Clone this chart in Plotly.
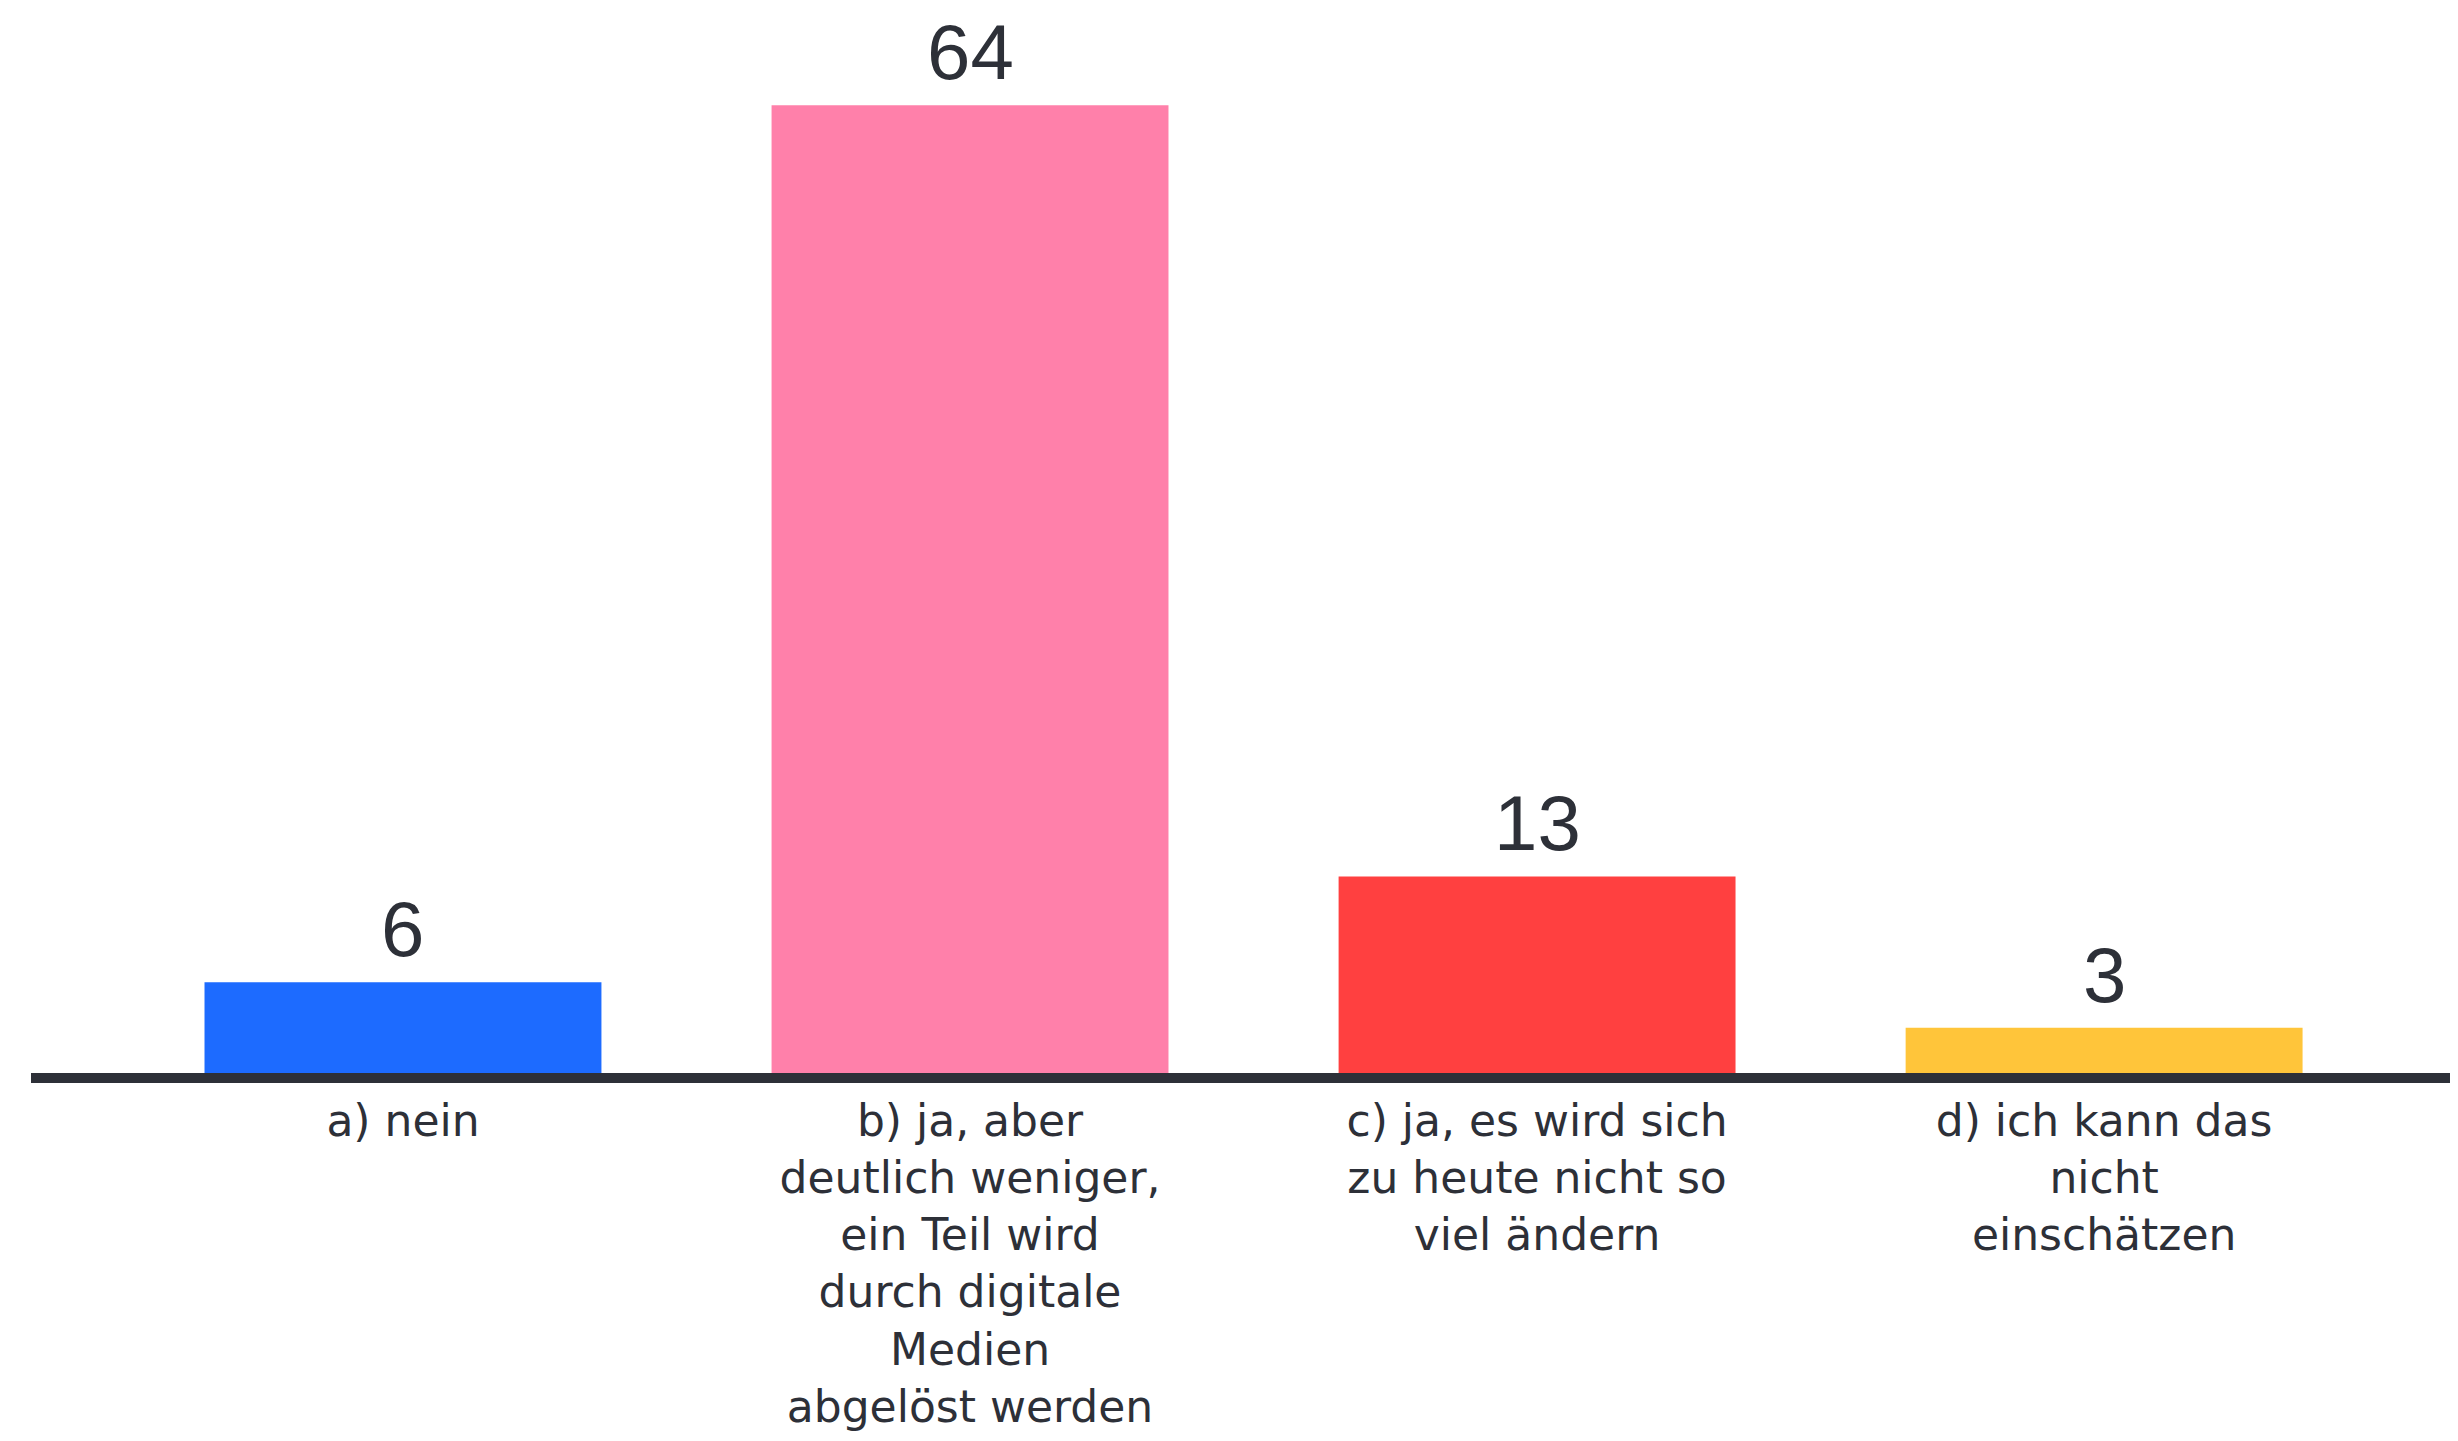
import plotly.graph_objects as go

# Survey answers and counts
categories = [
    "a) nein",
    "b) ja, aber<br>deutlich weniger,<br>ein Teil wird<br>durch digitale<br>Medien<br>abgelöst werden",
    "c) ja, es wird sich<br>zu heute nicht so<br>viel ändern",
    "d) ich kann das<br>nicht<br>einschätzen",
]
values = [6, 64, 13, 3]
colors = ["#1d6bff", "#ff80aa", "#ff4040", "#ffc53a"]

TEXT_COLOR = "#2d3038"
NUM_FONT = "Liberation Sans, Arial, sans-serif"
LABEL_FONT = "DejaVu Sans, sans-serif"

fig = go.Figure()
fig.add_trace(
    go.Bar(
        x=list(range(len(categories))),
        y=values,
        marker=dict(color=colors, line=dict(width=0)),
        width=0.7,
        hoverinfo="skip",
    )
)

# Value labels above bars
for i, v in enumerate(values):
    fig.add_annotation(
        x=i,
        y=v,
        text=str(v),
        showarrow=False,
        yanchor="bottom",
        yshift=7,
        font=dict(size=78, color=TEXT_COLOR, family=NUM_FONT),
    )

fig.update_xaxes(
    range=[-0.656, 3.610],
    tickmode="array",
    tickvals=list(range(len(categories))),
    ticktext=categories,
    tickfont=dict(size=44, color=TEXT_COLOR, family=LABEL_FONT),
    showline=True,
    linecolor=TEXT_COLOR,
    linewidth=10,
    showgrid=False,
    zeroline=False,
    ticks="",
    ticklabelstandoff=0,
    automargin=False,
)
fig.update_yaxes(
    range=[0, 70.44],
    visible=False,
    showgrid=False,
    zeroline=False,
    automargin=False,
)

# page body adds an 8px margin, so the figure is sized to fit the window
fig.update_layout(
    width=2442,
    height=1425,
    margin=dict(l=23, r=0, t=0, b=360),
    plot_bgcolor="white",
    paper_bgcolor="white",
    showlegend=False,
    font=dict(family=LABEL_FONT, color=TEXT_COLOR),
)

fig.write_html("out.html")
